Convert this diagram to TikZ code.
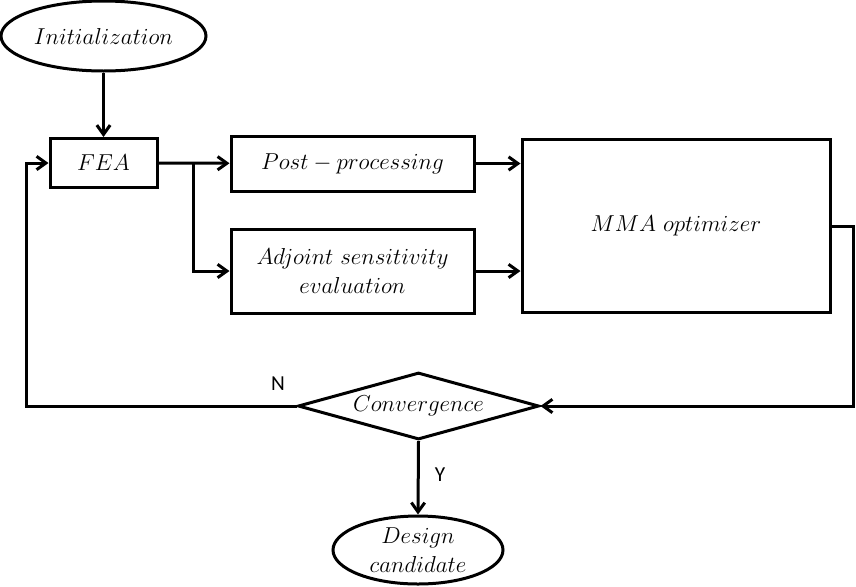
\documentclass[tikz,border=0pt]{standalone}
\usepackage{fontspec}
\newfontfamily\yesnofont{Carlito}
\usetikzlibrary{shapes.geometric,arrows.meta}
\tikzset{
  flow/.style={line width=2.25pt, -{Straight Barb[length=7pt,width=10pt,line width=2.25pt]}},
  task/.style={draw, line width=2.25pt, rectangle, inner sep=0pt, align=center,
    font=\fontsize{17.28}{22}\selectfont},
  terminal/.style={draw, line width=2.25pt, ellipse, inner sep=0pt, align=center,
    font=\fontsize{17.28}{22}\selectfont},
  decision/.style={draw, line width=2.25pt, diamond, inner sep=0pt, aspect=3.6,
    font=\fontsize{17.28}{22}\selectfont},
  answer/.style={font=\yesnofont\fontsize{16}{18}\selectfont}
}
\begin{document}
\begin{tikzpicture}[x=0.75pt,y=-0.75pt]
  \useasboundingbox (0,0) rectangle (856,586);
  % nodes
  \node[terminal, minimum width=153.75pt, minimum height=52.5pt] (init) at (103.5,36) {$Initialization$};
  \node[task, minimum width=80.25pt, minimum height=36.75pt] (fea) at (103.5,163) {$FEA$};
  \node[task, minimum width=182.25pt, minimum height=41.25pt] (post) at (352.5,163.5) {$Post-processing$};
  \node[task, minimum width=182.25pt, minimum height=63pt] (adj) at (352.5,271) {$Adjoint\ sensitivity$\\$evaluation$};
  \node[task, minimum width=231pt, minimum height=129.75pt] (mma) at (676,225.5) {$MMA\ optimizer$};
  \node[decision, minimum width=180.75pt, minimum height=50.25pt] (conv) at (418.5,406) {$Convergence$};
  \node[terminal, minimum width=127.5pt, minimum height=51pt] (design) at (418,550) {$Design$\\$candidate$};
  \node[answer] (no) at (278,384) {N};
  \node[answer] (yes) at (440,475) {Y};
  \coordinate (branch) at (193,163);
  \coordinate (rightbend) at (853,226);
  \coordinate (leftbend) at (26,406);
  % connectors
  \draw[flow] (init) -- (fea);
  \draw[flow] (fea) -- (post);
  \draw[flow] (branch) |- (adj);
  \draw[flow] (post.east) -- (post.east -| mma.west);
  \draw[flow] (adj.east) -- (adj.east -| mma.west);
  \draw[flow] (mma.east |- rightbend) -- (rightbend) |- (conv.east);
  \draw[flow] (conv.west) -- (leftbend) |- (fea.west);
  \draw[flow] (conv.south) -- (design.north);
\end{tikzpicture}
\end{document}
